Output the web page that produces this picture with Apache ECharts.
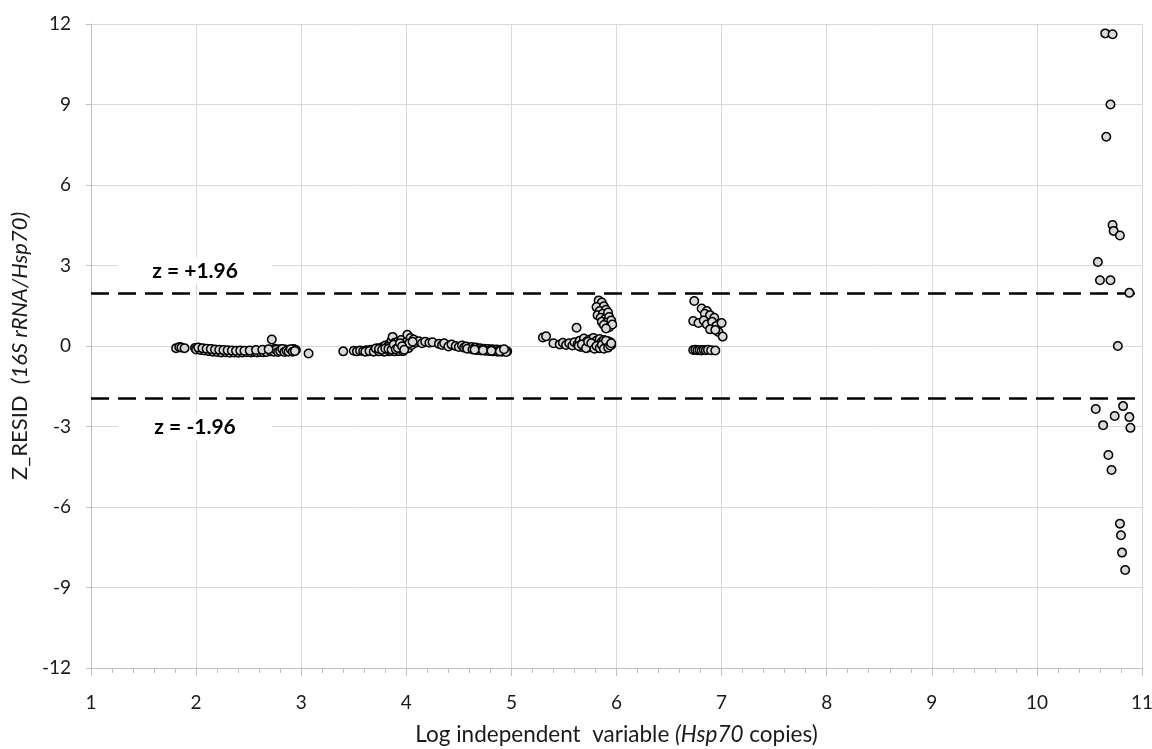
<!DOCTYPE html>
<html>
<head>
<meta charset="utf-8">
<script src="https://cdn.jsdelivr.net/npm/echarts@6/dist/echarts.min.js"></script>
<style>
  html, body { margin: 0; padding: 0; background: #fff; }
  #chart { width: 1152px; height: 749px; }
</style>
</head>
<body>
<div id="chart"></div>
<script>
// residuals around log 2-3
var cluster1 = [
  [1.81,-0.08],[1.84,-0.04],[1.86,-0.06],[1.89,-0.08],
  [1.99,-0.07],[2.01,-0.10],[2.03,-0.09],[2.05,-0.12],[2.07,-0.10],[2.09,-0.14],[2.11,-0.12],
  [2.13,-0.16],[2.15,-0.13],[2.17,-0.17],[2.19,-0.15],[2.21,-0.19],[2.23,-0.16],[2.25,-0.20],
  [2.27,-0.18],[2.29,-0.21],[2.31,-0.19],[2.33,-0.22],[2.35,-0.20],[2.37,-0.23],[2.39,-0.21],
  [2.41,-0.22],[2.43,-0.20],[2.45,-0.23],[2.47,-0.19],[2.50,-0.21],[2.53,-0.20],[2.56,-0.18],
  [2.59,-0.21],[2.62,-0.19],[2.65,-0.17],[2.68,-0.20],[2.70,-0.14],[2.73,-0.16],
  [2.75,-0.10],[2.77,-0.18],[2.79,-0.12],[2.81,-0.15],[2.83,-0.19],[2.85,-0.13],[2.87,-0.17],
  [2.89,-0.14],[2.91,-0.18],[2.93,-0.11],[2.95,-0.15],[3.07,-0.28],
  [2.00,-0.13],[2.04,-0.15],[2.08,-0.17],[2.12,-0.19],[2.16,-0.21],[2.20,-0.22],[2.24,-0.24],
  [2.28,-0.23],[2.32,-0.25],[2.36,-0.24],[2.40,-0.25],[2.44,-0.24],[2.48,-0.23],[2.52,-0.24],
  [2.55,-0.22],[2.58,-0.24],[2.61,-0.22],[2.64,-0.23],[2.67,-0.22],[2.71,-0.20],[2.74,-0.21],
  [2.76,-0.14],[2.78,-0.22],[2.80,-0.19],[2.82,-0.11],[2.84,-0.22],[2.86,-0.18],[2.88,-0.21],
  [2.90,-0.12],[2.92,-0.21],[2.94,-0.19],
  [2.02,-0.06],[2.06,-0.08],[2.10,-0.10],[2.14,-0.11],[2.18,-0.13],[2.22,-0.14],[2.26,-0.15],
  [2.30,-0.16],[2.34,-0.17],[2.38,-0.18],[2.42,-0.17],[2.46,-0.18],[2.51,-0.17],[2.57,-0.15],
  [2.63,-0.14],[2.69,-0.12],[2.72,0.24]
];
// residuals around log 3.4-5
var cluster2 = [
  [3.40,-0.20],[3.50,-0.18],[3.53,-0.20],[3.56,-0.17],[3.59,-0.19],[3.62,-0.16],[3.64,-0.20],
  [3.66,-0.14],[3.68,-0.18],[3.70,-0.12],[3.72,-0.17],[3.73,-0.08],[3.75,-0.15],[3.77,-0.05],
  [3.78,-0.18],[3.80,0.02],[3.81,-0.12],[3.83,-0.20],[3.84,0.08],[3.85,-0.06],[3.86,0.20],
  [3.87,0.34],[3.88,-0.15],[3.89,0.12],[3.90,-0.02],[3.91,-0.18],[3.92,0.16],[3.93,0.05],
  [3.94,-0.10],[3.95,0.22],[3.96,-0.16],[3.97,0.08],[3.98,-0.04],[4.00,0.14],[4.01,0.42],
  [4.02,-0.08],[4.04,0.30],[4.05,0.04],[4.07,0.24],[4.09,0.12],[4.12,0.18],[4.15,0.10],
  [4.18,0.16],[4.22,0.12],[4.25,0.14],[4.31,0.08],[4.34,0.04],[4.36,0.10],[4.40,-0.02],
  [4.43,0.06],[4.47,0.00],[4.50,-0.04],[4.53,0.02],[4.55,-0.06],[4.57,-0.02],[4.60,-0.08],
  [4.62,-0.04],[4.64,-0.10],[4.66,-0.06],[4.68,-0.12],[4.70,-0.08],[4.72,-0.14],[4.74,-0.10],
  [4.76,-0.15],[4.78,-0.11],[4.80,-0.16],[4.82,-0.12],[4.84,-0.17],[4.86,-0.13],[4.88,-0.18],
  [4.90,-0.14],[4.92,-0.19],[4.94,-0.16],[4.96,-0.20],
  [3.61,-0.21],[3.65,-0.19],[3.69,-0.21],[3.71,-0.09],[3.74,-0.20],[3.76,-0.12],[3.79,-0.21],
  [3.82,-0.04],[3.85,-0.19],[3.87,0.00],[3.89,-0.20],[3.91,0.04],[3.93,-0.19],[3.95,-0.06],
  [3.97,-0.19],[3.99,0.02],[4.03,0.10],[4.06,0.16],[4.58,-0.10],[4.63,-0.13],[4.67,-0.15],
  [4.71,-0.17],[4.75,-0.18],[4.79,-0.19],[4.83,-0.20],[4.87,-0.21],[4.91,-0.21],[4.95,-0.22],
  [3.74,-0.11],[3.77,-0.14],[3.80,-0.09],[3.83,-0.10],[3.86,-0.13],[3.88,0.05],[3.90,-0.12],
  [3.92,-0.07],[3.94,0.10],[3.96,-0.01],[3.98,-0.14],[4.65,-0.14],[4.73,-0.16],[4.81,-0.18],
  [4.89,-0.20],[4.93,-0.12]
];
// residuals around log 5.3-6
var cluster3 = [
  [5.30,0.32],[5.33,0.36],[5.40,0.10],[5.46,0.06],[5.49,0.12],[5.52,0.04],[5.55,0.10],
  [5.58,0.02],[5.60,0.14],[5.62,0.68],[5.63,0.06],[5.65,0.20],[5.66,-0.04],[5.68,0.12],
  [5.69,0.28],[5.70,0.02],[5.72,0.18],[5.73,-0.06],[5.74,0.08],[5.75,0.24],[5.76,-0.02],
  [5.77,0.14],[5.78,0.30],[5.79,0.04],[5.80,-0.08],[5.81,0.20],[5.82,0.10],[5.83,-0.04],
  [5.84,0.26],[5.85,0.06],[5.86,0.16],[5.87,-0.06],[5.88,0.22],[5.89,0.02],[5.90,0.12],
  [5.91,-0.02],[5.92,0.18],[5.93,0.08],[5.94,0.14],[5.95,0.04],
  [5.64,0.00],[5.67,0.06],[5.71,-0.08],[5.73,0.16],[5.76,0.10],[5.79,-0.10],[5.81,0.00],
  [5.84,-0.08],[5.86,0.04],[5.88,-0.10],[5.90,0.20],[5.92,-0.06],[5.94,0.02],[5.95,0.10],
  [5.83,1.70],[5.86,1.62],[5.81,1.45],[5.88,1.48],[5.84,1.30],[5.90,1.35],[5.82,1.15],
  [5.87,1.20],[5.92,1.25],[5.85,1.05],[5.89,1.00],[5.93,1.08],[5.86,0.90],[5.91,0.88],
  [5.95,0.95],[5.88,0.78],[5.93,0.70],[5.96,0.80],[5.90,0.65]
];
// residuals around log 7
var cluster4 = [
  [6.73,-0.15],[6.75,-0.14],[6.77,-0.16],[6.79,-0.15],[6.81,-0.17],[6.83,-0.15],[6.85,-0.16],
  [6.87,-0.14],[6.90,-0.16],[6.94,-0.17],
  [6.74,1.68],[6.81,1.40],[6.86,1.30],[6.84,1.20],[6.89,1.15],[6.93,1.05],[6.73,0.93],
  [6.78,0.86],[6.83,0.95],[6.86,0.80],[6.91,0.90],[6.95,0.75],[7.00,0.86],[6.89,0.62],
  [6.97,0.52],[7.01,0.35],[6.94,0.60]
];
// residuals near log 10.5-11
var cluster5 = [
  [10.65,11.65],[10.72,11.62],[10.70,9.00],[10.66,7.80],[10.72,4.51],[10.73,4.29],[10.79,4.12],
  [10.58,3.13],[10.60,2.45],[10.70,2.45],[10.88,1.98],[10.77,0.00],
  [10.56,-2.35],[10.82,-2.24],[10.74,-2.61],[10.88,-2.65],[10.63,-2.95],[10.89,-3.05],
  [10.68,-4.06],[10.71,-4.62],[10.79,-6.62],[10.80,-7.05],[10.81,-7.70],[10.84,-8.35]
];
var zLimits = [1.96, -1.96];
var zLabels = ['z = +1.96', 'z = -1.96'];
var zLabelPos = [[1.99, 2.80], [1.99, -3.02]];

var allPoints = cluster1.concat(cluster2, cluster3, cluster4, cluster5);

var chart = echarts.init(document.getElementById('chart'));
var font = 'Lato, "Open Sans", sans-serif';
var gridColor = '#d9d9d9';
var textColor = '#1a1a1a';

chart.setOption({
  animation: false,
  textStyle: { fontFamily: font },
  grid: { left: 91, right: 10, top: 24, bottom: 81, outerBoundsMode: 'none', containLabel: false },
  xAxis: {
    type: 'value',
    min: 1, max: 11, interval: 1,
    name: '{n|Log independent  variable }{i|(Hsp70}{n| copies)}',
    nameLocation: 'middle',
    nameGap: 55,
    nameTextStyle: {
      rich: {
        n: { fontSize: 22.5, color: textColor, fontFamily: font },
        i: { fontSize: 22.5, color: textColor, fontStyle: 'italic', fontFamily: font }
      }
    },
    axisLine: { show: true, onZero: false, lineStyle: { color: '#bfbfbf', width: 1 } },
    axisTick: { show: true, length: 8, lineStyle: { color: '#bfbfbf' } },
    minorTick: { show: true, splitNumber: 5, length: 5, lineStyle: { color: '#bfbfbf' } },
    axisLabel: { fontSize: 19, color: textColor, margin: 25, fontFamily: font },
    splitLine: { show: true, lineStyle: { color: gridColor, width: 1 } }
  },
  yAxis: {
    type: 'value',
    min: -12, max: 12, interval: 3,
    name: '{n|Z_RESID  }{i|(16S rRNA/Hsp70)}',
    nameLocation: 'middle',
    nameGap: 52,
    nameRotate: 90,
    nameTextStyle: {
      rich: {
        n: { fontSize: 22, color: textColor, fontFamily: font },
        i: { fontSize: 22, color: textColor, fontStyle: 'italic', fontFamily: font }
      }
    },
    axisLine: { show: true, onZero: false, lineStyle: { color: '#bfbfbf', width: 1 } },
    axisTick: { show: true, length: 5, lineStyle: { color: '#bfbfbf' } },
    axisLabel: { fontSize: 19, color: textColor, margin: 20, fontFamily: font },
    splitLine: { show: true, lineStyle: { color: gridColor, width: 1 } }
  },
  series: [
    {
      // threshold lines and their labels
      type: 'scatter',
      data: [],
      z: 2,
      markLine: {
        silent: true,
        symbol: 'none',
        label: { show: false },
        lineStyle: { color: '#000', width: 2.5, type: [18, 9] },
        data: zLimits.map(function (v) { return { yAxis: v }; })
      },
      markPoint: {
        silent: true,
        symbol: 'rect',
        symbolSize: [154, 26],
        itemStyle: { color: '#fff' },
        label: {
          show: true, position: 'inside', color: '#000',
          fontWeight: 'bold', fontSize: 21, fontFamily: font
        },
        data: zLabels.map(function (t, i) {
          return { coord: zLabelPos[i], value: t, label: { formatter: t } };
        })
      }
    },
    {
      type: 'scatter',
      z: 5,
      symbol: 'circle',
      symbolSize: 8.5,
      itemStyle: { color: '#d9d9d9', borderColor: '#000', borderWidth: 1.5, opacity: 1 },
      data: allPoints
    }
  ]
});
</script>
</body>
</html>
